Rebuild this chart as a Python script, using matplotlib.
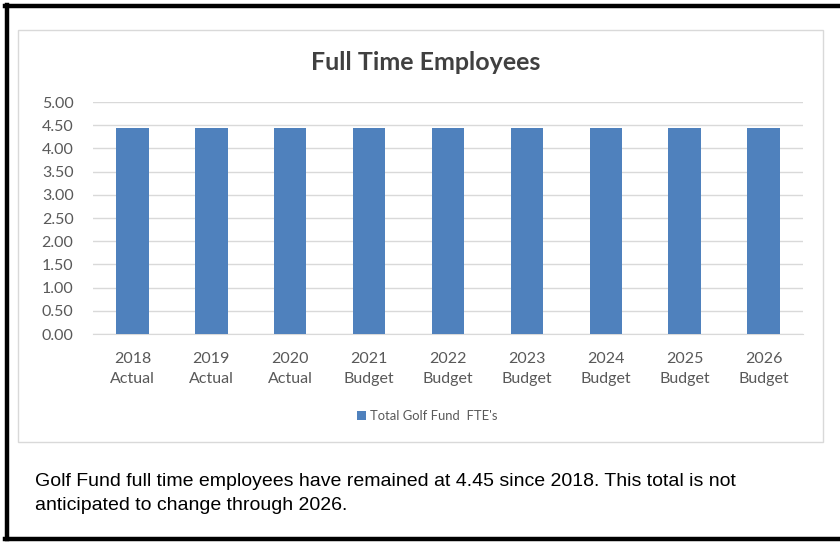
import matplotlib
matplotlib.use("Agg")
import matplotlib.pyplot as plt
from matplotlib.patches import Rectangle
from matplotlib.lines import Line2D

categories = ["2018\nActual", "2019\nActual", "2020\nActual", "2021\nBudget", "2022\nBudget",
              "2023\nBudget", "2024\nBudget", "2025\nBudget", "2026\nBudget"]
fte = [4.45, 4.45, 4.45, 4.45, 4.45, 4.45, 4.45, 4.45, 4.45]
yticks = [0.0, 0.5, 1.0, 1.5, 2.0, 2.5, 3.0, 3.5, 4.0, 4.5, 5.0]

W, H = 840, 542
fig = plt.figure(figsize=(W/100, H/100), dpi=100)
fig.patch.set_facecolor("white")

# outer black border (left, top, bottom)
fig.add_artist(Line2D([7/W, 7/W], [1-5/H, 1-539/H], color="black", lw=3.2, transform=fig.transFigure))
fig.add_artist(Line2D([5/W, 1], [1-5.5/H, 1-5.5/H], color="black", lw=3.2, transform=fig.transFigure))
fig.add_artist(Line2D([5/W, 1], [1-538.5/H, 1-538.5/H], color="black", lw=3.2, transform=fig.transFigure))

# chart box
fig.add_artist(Rectangle((18/W, 1-442/H), (823-18)/W, (442-30)/H, transform=fig.transFigure,
                         fill=False, edgecolor="#d9d9d9", lw=1.0))

ax = fig.add_axes([93/W, 1-334/H, (803-93)/W, (334-102)/H])
ax.bar(range(len(categories)), fte, width=0.41, color="#4f81bd", zorder=3, label="Total Golf Fund  FTE's")
ax.set_xlim(-0.5, len(categories)-0.5)
ax.set_ylim(0, 5.0)
ax.set_yticks(yticks)
ax.set_yticklabels([f"{v:.2f}" for v in yticks])
ax.set_xticks(range(len(categories)))
ax.set_xticklabels(categories)
ax.grid(axis="y", color="#d9d9d9", lw=1.0, zorder=0)
for s in ["top", "right", "left"]:
    ax.spines[s].set_visible(False)
ax.spines["bottom"].set_color("#d9d9d9")
ax.tick_params(axis="both", length=0, labelsize=11.5, labelcolor="#595959")
ax.tick_params(axis="y", pad=14)
ax.tick_params(axis="x", pad=13)
for t in ax.get_xticklabels() + ax.get_yticklabels():
    t.set_fontfamily("Lato")
    t.set_linespacing(1.5)

fig.text(426/W, 1-63/H, "Full Time Employees", ha="center", va="center",
         fontsize=18, fontweight="bold", color="#404040", family="Lato")

leg = fig.legend(*ax.get_legend_handles_labels(), loc="center", bbox_to_anchor=(427/W, 1-416/H),
                 frameon=False, handlelength=0.7, handleheight=0.7, handletextpad=0.3,
                 prop={"family": "Lato", "size": 9.4})
for t in leg.get_texts():
    t.set_color("#595959")

fig.text(35/W, 1-481/H, "Golf Fund full time employees have remained at 4.45 since 2018. This total is not",
         ha="left", va="center", fontsize=14, family="Liberation Sans", color="black")
fig.text(35/W, 1-506/H, "anticipated to change through 2026.",
         ha="left", va="center", fontsize=14, family="Liberation Sans", color="black")

fig.savefig("out.png", dpi=100)
